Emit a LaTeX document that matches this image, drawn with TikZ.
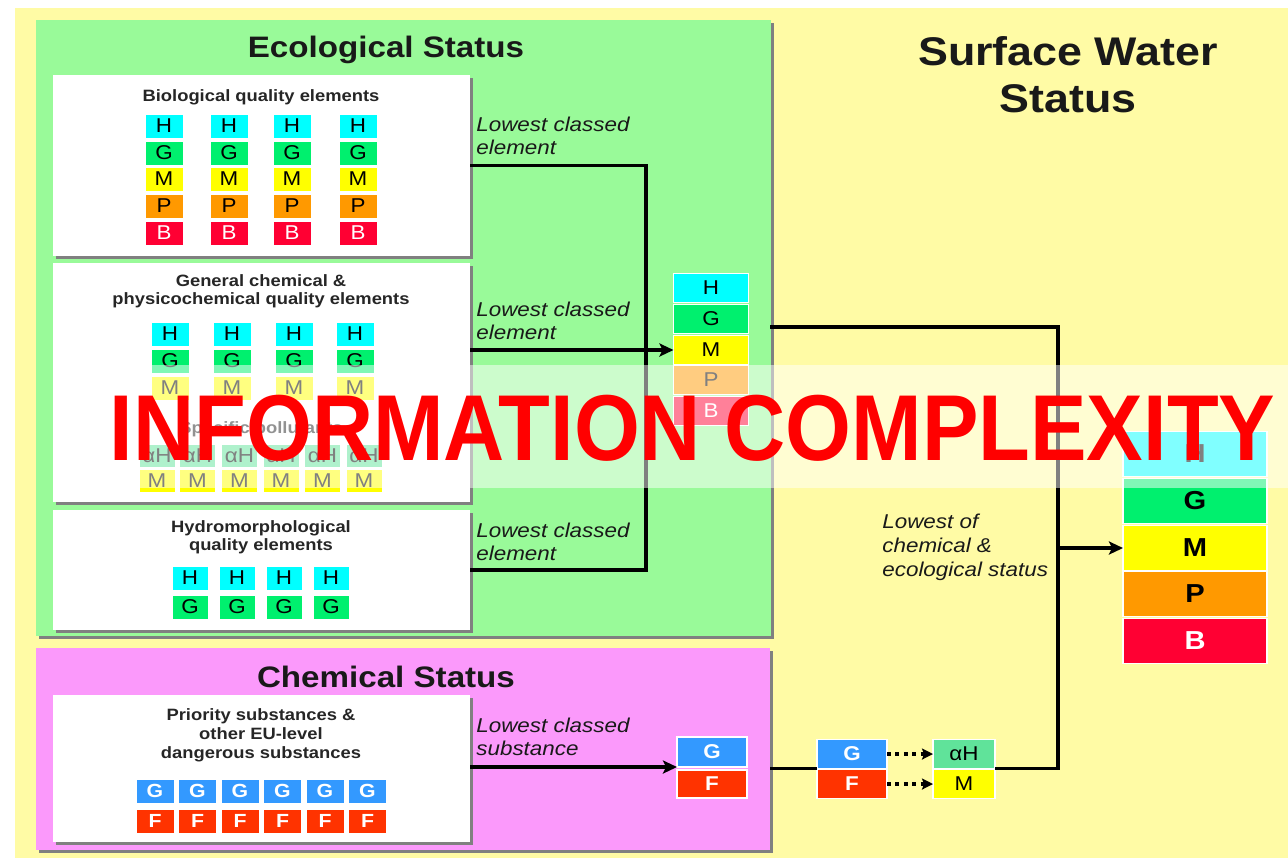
\documentclass[tikz,border=0pt]{standalone}
\usepackage{fontspec}
\setmainfont{Liberation Sans}[FakeStretch=1.12]
\newfontfamily\ovfont{Liberation Sans}[FakeStretch=0.905]
\usetikzlibrary{arrows.meta,shadows}
\definecolor{bgY}{HTML}{FFFBA5}
\definecolor{ecoG}{HTML}{99FA99}
\definecolor{chemP}{HTML}{FB99FB}
\definecolor{cH}{HTML}{00FFFF}
\definecolor{cG}{HTML}{00F06E}
\definecolor{cM}{HTML}{FFFF00}
\definecolor{cP}{HTML}{FF9900}
\definecolor{cB}{HTML}{FF0033}
\definecolor{cC}{HTML}{3399FF}
\definecolor{cF}{HTML}{FF3300}
\definecolor{cA}{HTML}{60E39A}
\definecolor{shad}{HTML}{808080}
\begin{document}
\begin{tikzpicture}[x=0.5pt,y=-0.5pt,
  panel/.style={rectangle,inner sep=0,outer sep=0,drop shadow={shadow xshift=1.5pt,shadow yshift=-1.5pt,fill=shad,opacity=1}},
  whitebox/.style={panel,fill=white},
  btitle/.style={font=\bfseries\fontsize{8.2}{9}\selectfont,align=center,text=black!85,inner sep=0},
  bigtitle/.style={font=\bfseries\fontsize{14.8}{16}\selectfont,text=black!90,inner sep=0},
  lab/.style={font=\itshape\fontsize{10}{11.5}\selectfont,align=left,inner sep=0,text=black!90},
  cell/.style={rectangle,inner sep=0,outer sep=0},
  smallcell/.style={cell,minimum width=18.5pt,minimum height=11.5pt,font=\fontsize{10}{10}\selectfont},
  chemcell/.style={cell,minimum width=18.5pt,minimum height=11.5pt,font=\bfseries\fontsize{9.5}{10}\selectfont},
  midcell/.style={cell,draw=white,line width=0.6pt,minimum width=37.5pt,minimum height=14.5pt,font=\fontsize{10}{10}\selectfont},
  bigcell/.style={cell,draw=white,line width=0.8pt,minimum width=72pt,minimum height=22.5pt,font=\bfseries\fontsize{13}{13}\selectfont},
  gH/.style={fill=cH},gG/.style={fill=cG},gM/.style={fill=cM},gP/.style={fill=cP},
  gB/.style={fill=cB,text=white},gC/.style={fill=cC,text=white},gF/.style={fill=cF,text=white},gA/.style={fill=cA},
  line/.style={line width=1.6pt,black},
  arrow/.style={line,-{Stealth[length=7pt,width=6.5pt,inset=1.5pt]}},
  dotarrow/.style={line width=1.6pt,dash pattern=on 2pt off 2.2pt,-{Stealth[length=5.5pt,width=5.5pt,inset=1pt]}}]
\useasboundingbox (0,0) rectangle (1288,858);
\fill[white] (0,0) rectangle (1288,858);
\fill[bgY] (15,8) rectangle (1288,858);

% panels
\node[panel,fill=ecoG,minimum width=367.5pt,minimum height=308pt] (eco) at (403.5,328) {};
\node[panel,fill=chemP,minimum width=367pt,minimum height=101pt] (chem) at (403,749) {};
\node[whitebox,minimum width=208.5pt,minimum height=90.5pt] (bio) at (261.5,165.5) {};
\node[whitebox,minimum width=208.5pt,minimum height=119.5pt] (gen) at (261.5,382.5) {};
\node[whitebox,minimum width=208.5pt,minimum height=60pt] (hydro) at (261.5,570) {};
\node[whitebox,minimum width=208.5pt,minimum height=73.5pt] (prio) at (261.5,768.5) {};

% titles
\node[bigtitle] (ecoT) at (386,50) {Ecological Status};
\node[bigtitle] (chemT) at (386,677) {Chemical Status};
\node[font=\bfseries\fontsize{20}{23.5}\selectfont,align=center,text=black!90,inner sep=0] (swT) at (1068,75) {Surface Water\\Status};
\node[btitle] (bioT) at (261,97) {Biological quality elements};
\node[btitle] (genT) at (261,291) {General chemical \&\\physicochemical quality elements};
\node[btitle] (spT) at (261,429) {Specific pollutants};
\node[btitle] (hydT) at (261,537) {Hydromorphological\\quality elements};
\node[btitle,font=\bfseries\fontsize{8.2}{9.5}\selectfont] (prT) at (261,735) {Priority substances \&\\other EU-level\\dangerous substances};

% biological cells
\foreach \cx [count=\i] in {164,229,292,358}{
  \foreach \g/\cy in {H/126,G/153,M/179,P/206,B/233}{
    \node[smallcell,g\g] (bio\g\i) at (\cx,\cy) {\g};
  }
}
% general chemical cells
\foreach \cx [count=\i] in {170,232,294,355}{
  \foreach \g/\cy in {H/334,G/361,M/388}{
    \node[smallcell,g\g] (gen\g\i) at (\cx,\cy) {\g};
  }
}
% specific pollutants
\foreach \cx [count=\i] in {157,197.5,239.5,281,322.5,364}{
  \node[smallcell,gA,minimum width=17.5pt,minimum height=11pt] (spA\i) at (\cx,456) {αH};
  \node[smallcell,gM,minimum width=17.5pt,minimum height=11pt] (spM\i) at (\cx,481) {M};
}
% hydromorphological
\foreach \cx [count=\i] in {190,237,284,331}{
  \foreach \g/\cy in {H/578,G/607}{
    \node[smallcell,g\g,minimum width=17.5pt] (hyd\g\i) at (\cx,\cy) {\g};
  }
}
% priority substances
\foreach \cx [count=\i] in {155,197.5,240,282.5,325,367.5}{
  \node[chemcell,gC] (prG\i) at (\cx,791) {G};
  \node[chemcell,gF] (prF\i) at (\cx,821) {F};
}

% central ecological stack
\foreach \g/\cy in {H/288,G/319,M/350,P/380,B/411}{
  \node[midcell,g\g] (c\g) at (711,\cy) {\g};
}
% chemical stack
\node[midcell,gC,minimum width=35pt,minimum height=15pt,font=\bfseries\fontsize{10}{10}\selectfont] (chG) at (712,752) {G};
\node[midcell,gF,minimum width=35pt,minimum height=14pt,font=\bfseries\fontsize{10}{10}\selectfont] (chF) at (712,784) {F};
% small conversion stacks
\node[midcell,gC,minimum width=35pt,font=\bfseries\fontsize{10}{10}\selectfont] (sG) at (852,754) {G};
\node[midcell,gF,minimum width=35pt,font=\bfseries\fontsize{10}{10}\selectfont] (sF) at (852,784) {F};
\node[midcell,gA,minimum width=31pt] (aH) at (964,754) {αH};
\node[midcell,gM,minimum width=31pt] (aM) at (964,784) {M};
% surface water stack
\foreach \g/\cy in {H/454,G/501,M/548,P/594,B/641}{
  \node[bigcell,g\g] (r\g) at (1195,\cy) {\g};
}

% labels
\node[lab,anchor=west] (l1) at (476,136) {Lowest classed\\element};
\node[lab,anchor=west] (l2) at (476,321) {Lowest classed\\element};
\node[lab,anchor=west] (l3) at (476,542) {Lowest classed\\element};
\node[lab,anchor=west] (l4) at (476,737) {Lowest classed\\substance};
\node[lab,anchor=north west,font=\itshape\fontsize{10}{11.8}\selectfont] (l5) at (882,514) {Lowest of\\chemical \&\\ecological status};

% connectors
\coordinate (j1) at (646,350);
\coordinate (j2) at (1058,548);
\coordinate (eOut) at (770,327);
\draw[line] (bio.east) -| (j1);
\draw[line] (hydro.east) -| (j1);
\draw[arrow] (gen.east |- cM) -- (cM.west);
\draw[line] (eOut) -| (j2);
\draw[line] (aH.south east) -| (j2);
\draw[arrow] (j2) -- (rM.west);
\draw[arrow] (prio.east |- chG.south) -- (chG.south west);
\draw[line] (chem.east |- sG.south west) -- (sG.south west);
\draw[dotarrow] (sG.east) -- (aH.west);
\draw[dotarrow] (sF.east) -- (aM.west);

% overlay
\fill[white,opacity=0.5] (100,365) rectangle (1288,488);
\node[text=red,font=\ovfont\bfseries\fontsize{46.8}{50}\selectfont,inner sep=0] (ic) at (692.5,428.5) {INFORMATION COMPLEXITY};
\end{tikzpicture}
\end{document}
